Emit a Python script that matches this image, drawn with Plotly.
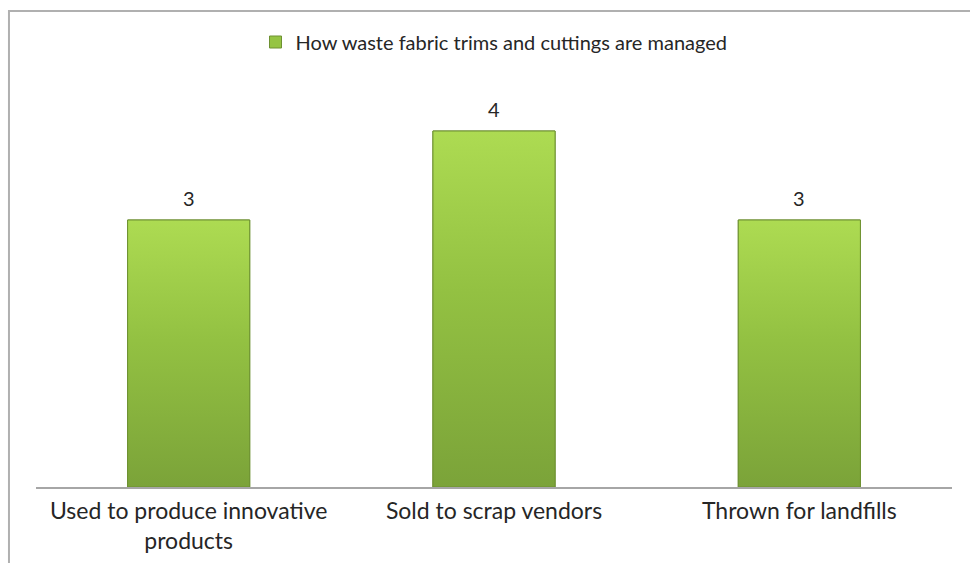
import plotly.graph_objects as go

# Survey responses: how waste fabric trims and cuttings are handled
categories = ["Used to produce innovative<br>products", "Sold to scrap vendors", "Thrown for landfills"]
counts = [3, 4, 3]
series_name = "How waste fabric trims and cuttings are managed"

bar_width = 0.4
top_green = "#addb52"
bottom_green = "#7ba339"
edge_green = "#6e9132"
font_family = "Lato, 'Open Sans', sans-serif"
text_color = "#262626"

positions = list(range(len(categories)))

fig = go.Figure()

# Base bars (also provide the legend swatch)
fig.add_trace(go.Bar(
    x=positions, y=counts, width=bar_width, name=series_name,
    marker=dict(color="#95c443", line=dict(color=edge_green, width=1)),
    showlegend=True, hoverinfo="skip",
))

# Vertical gradient fill laid over each bar
for i, v in zip(positions, counts):
    x0, x1 = i - bar_width / 2, i + bar_width / 2
    fig.add_trace(go.Scatter(
        x=[x0, x1, x1, x0, x0], y=[0, 0, v, v, 0],
        mode="lines", fill="toself",
        fillgradient=dict(type="vertical",
                          colorscale=[[0, bottom_green], [0.55, "#93c142"], [1, top_green]]),
        line=dict(color=edge_green, width=1),
        showlegend=False, hoverinfo="skip",
    ))

# Value labels above the bars
for i, v in zip(positions, counts):
    fig.add_annotation(x=i, y=v, text=str(v), showarrow=False, yshift=22,
                       font=dict(family=font_family, size=20, color=text_color))

fig.update_layout(
    width=970, height=563,
    margin=dict(l=36, r=18, t=42, b=76, autoexpand=False),
    paper_bgcolor="white", plot_bgcolor="white",
    bargap=0.6,
    legend=dict(orientation="h", x=0.5, xanchor="center", y=1.0, yanchor="middle",
                font=dict(family=font_family, size=20, color=text_color),
                bgcolor="rgba(0,0,0,0)", itemwidth=30),
    xaxis=dict(range=[-0.5, 2.5], tickvals=positions, ticktext=categories,
               showgrid=False, zeroline=False, showline=True, linecolor="#a6a6a6",
               linewidth=2, ticks="", ticklabelstandoff=2, automargin=False,
               tickfont=dict(family=font_family, size=23, color=text_color)),
    yaxis=dict(range=[0, 5], visible=False, showgrid=False, zeroline=False, automargin=False),
    shapes=[dict(type="rect", xref="paper", yref="paper",
                 x0=-27 / 915, x1=1.1, y0=-0.3, y1=1 + 31 / 445,
                 line=dict(color="#b0b0b0", width=2), fillcolor="rgba(0,0,0,0)", layer="below")],
)

fig.write_html("out.html")
